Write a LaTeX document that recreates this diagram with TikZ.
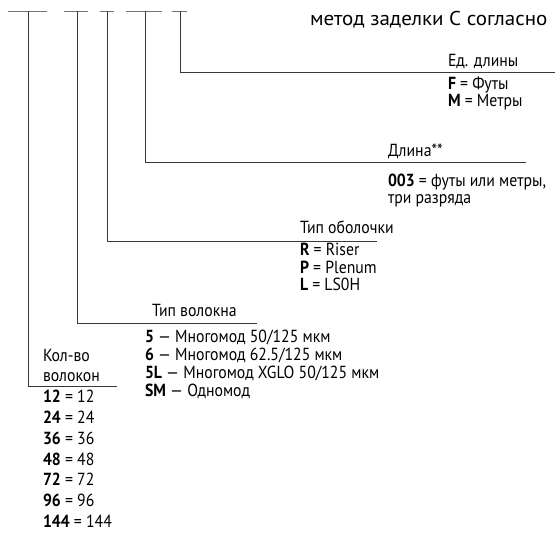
\documentclass[tikz,border=0pt]{standalone}
\usepackage{fontspec}
\setmainfont{PT Sans}[FakeStretch=0.9]
\newfontfamily\widefont{PT Sans}[FakeStretch=1.05]
\begin{document}
\begin{tikzpicture}[x=1pt,y=-1pt,
  lbl/.style={anchor=base west,inner sep=0pt,outer sep=0pt,font=\fontsize{17.5}{20}\selectfont,text=black},
  conn/.style={draw=black!78,line width=0.9pt},
  topbar/.style={draw=black!55,line width=0.9pt}]
\useasboundingbox (0,0) rectangle (555,534);
% top text (cut by the frame in the original)
\node[lbl,font=\widefont\fontsize{20}{24}\selectfont] (toptext) at (310,26) {метод заделки С согласно};
% top bars
\foreach \n/\a/\b in {1/8/47,2/64/88,3/100/114,4/126/162,5/172/187}{
  \coordinate (bl\n) at (\a,11);
  \coordinate (br\n) at (\b,11);
  \draw[topbar] (bl\n) -- (br\n);
}
% connector coordinates
\coordinate (t1) at (28,11);  \coordinate (c1) at (28,386);  \coordinate (e1) at (117,386);
\coordinate (t2) at (77,11);  \coordinate (c2) at (77,323);  \coordinate (e2) at (257,323);
\coordinate (t3) at (107,11); \coordinate (c3) at (107,241); \coordinate (e3) at (377,241);
\coordinate (t4) at (145,11); \coordinate (c4) at (145,162); \coordinate (e4) at (526,162);
\coordinate (t5) at (180,11); \coordinate (c5) at (180,72);  \coordinate (e5) at (555,72);
\foreach \n in {1,...,5}{\draw[conn] (t\n) -- (c\n) -- (e\n);}
% Ед. длины
\node[lbl] (h5) at (448,67) {Ед. длины};
\node[lbl] (f5a) at (448,90) {\textbf{F} = Футы};
\node[lbl] (f5b) at (448,107) {\textbf{M} = Метры};
% Длина
\node[lbl] (h4) at (388,157) {Длина**};
\node[lbl] (f4a) at (388,187) {\textbf{003} = футы или метры,};
\node[lbl] (f4b) at (388,204) {три разряда};
% Тип оболочки
\node[lbl] (h3) at (300,234) {Тип оболочки};
\node[lbl] (f3a) at (300,256) {\textbf{R} = Riser};
\node[lbl] (f3b) at (300,273.5) {\textbf{P} = Plenum};
\node[lbl] (f3c) at (300,291) {\textbf{L} = LS0H};
% Тип волокна
\node[lbl] (h2) at (152,317) {Тип волокна};
\node[lbl] (f2a) at (145,343) {\textbf{5} — Многомод 50/125 мкм};
\node[lbl] (f2b) at (145,361) {\textbf{6} — Многомод 62.5/125 мкм};
\node[lbl] (f2c) at (145,379) {\textbf{5L} — Многомод XGLO 50/125 мкм};
\node[lbl] (f2d) at (145,397) {\textbf{SM} — Одномод};
% Кол-во волокон
\node[lbl] (h1a) at (43,362) {Кол-во};
\node[lbl] (h1b) at (43,382) {волокон};
\foreach \v [count=\k from 0] in {12,24,36,48,72,96,144}{
  \node[lbl] (n\v) at (43,{403+20.7*\k}) {\textbf{\v} = \v};
}
\end{tikzpicture}
\end{document}
